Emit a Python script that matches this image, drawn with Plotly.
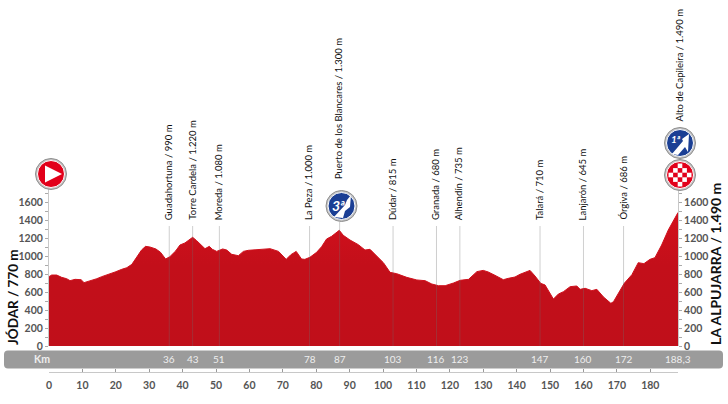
import plotly.graph_objects as go

km = [0,0.8,2.3,3.8,5.3,6.3,7.8,9.6,10.5,11.5,12.8,14.3,15.8,17.8,19.8,21.8,23.3,24.8,26.2,27.7,28.9,30.2,32,33.4,34.9,36.2,37.9,39.2,40.7,42.2,43,44.2,45.7,46.7,48,48.9,50.2,52,53.2,54.7,56.7,58.2,59.7,
      62.7,66.2,68.7,71,72.4,74,75.6,76.6,78.1,80.1,81.6,83.1,84.6,86.9,88.1,90.1,92.6,94.6,96.1,98.1,100.1,102.1,104.1,107.1,110.1,112.6,114.6,116.6,118.6,121.1,123.1,125.6,128.1,130,131.5,133.5,136,137.5,139.5,141,144,145.5,147.2,148.5,151,152.5,154,156,158,159,160.5,162.5,164,166,168.2,169,170.5,172.2,174.5,176.4,178.1,179.9,181.4,183.4,185.4,187.2,188.3]
elev = [774,792,792,766,751,729,744,740,707,718,740,751,774,796,826,856,874,911,990,1071,1112,1105,1083,1045,971,997,1060,1127,1150,1194,1213,1176,1127,1086,1112,1079,1056,1083,1071,1023,1008,1056,1068,
        1075,1086,1056,967,1019,1056,971,967,990,1045,1108,1194,1224,1291,1235,1183,1131,1071,1079,1008,930,822,807,766,737,729,692,673,673,703,733,744,830,844,826,789,740,755,770,800,844,781,699,681,524,580,606,662,670,632,644,618,632,547,476,495,595,699,796,930,919,967,986,1127,1295,1414,1490]

pass_km = [36,43,51,78,87,103,116,123,147,160,172]
pass_names = ["Guadahortuna / 990 m","Torre Cardela / 1.220 m","Moreda / 1.080 m","La Peza / 1.000 m",
              "Puerto de los Blancares / 1.300 m","Dúdar / 815 m","Granada / 680 m","Alhendín / 735 m",
              "Talará / 710 m","Lanjarón / 645 m","Órgiva / 686 m"]
band_labels = ["36","43","51","78","87","103","116","123","147","160","172"]
x_ticks = list(range(0,190,10))
y_major = list(range(0,1800,200))
y_minor = list(range(100,1800,200))

FONT = "Lato"
W,H = 728,404
L,R = 49,50
PX = lambda x: (x-L)/(W-L-R)   # paper x spans the plot area
PY = lambda y: 1-y/H
Y0, YT = 346.0, 188.0
SCALE = 0.0896
y_top = (Y0-YT)/SCALE

fig = go.Figure()
fig.add_trace(go.Scatter(x=km,y=elev,mode="lines",line=dict(color="#cf101c",width=1),
    fill="tozeroy",
    fillgradient=dict(type="vertical",colorscale=[[0,"#c00f1a"],[0.6,"#c30f1a"],[1,"#d3101c"]]),
    hoverinfo="skip",showlegend=False))

label_top = (Y0-226)/SCALE
for k in pass_km:
    top = (Y0-222)/SCALE if k==87 else label_top
    fig.add_trace(go.Scatter(x=[k,k],y=[0,top],mode="lines",
        line=dict(color="rgba(110,110,110,0.33)",width=1),hoverinfo="skip",showlegend=False))

ann=[]
for k,n in zip(pass_km,pass_names):
    ybase = 181 if k==87 else 222
    ann.append(dict(x=k,xref="x",y=PY(ybase),yref="paper",text=n,textangle=-90,showarrow=False,
        xanchor="center",yanchor="bottom",xshift=-1,font=dict(family=FONT,size=9.5,color="#111")))
ann.append(dict(x=188.3,xref="x",y=PY(124),yref="paper",text="Alto de Capileira / 1.490 m",textangle=-90,showarrow=False,
    xanchor="center",yanchor="bottom",xshift=1,font=dict(family=FONT,size=9.5,color="#111")))
for k,n in zip(pass_km,band_labels):
    ann.append(dict(x=k,xref="x",y=PY(359),yref="paper",text=n,showarrow=False,xanchor="center",yanchor="middle",
        font=dict(family=FONT,size=10,color="#eeeeee")))
ann.append(dict(x=188.3,xref="x",y=PY(359),yref="paper",text="188,3",showarrow=False,xanchor="center",yanchor="middle",
    font=dict(family=FONT,size=10,color="#eeeeee")))
ann.append(dict(x=PX(42),xref="paper",y=PY(359),yref="paper",text="<b>Km</b>",showarrow=False,xanchor="center",yanchor="middle",
    font=dict(family=FONT,size=10.5,color="#eeeeee")))
ann.append(dict(x=PX(13),xref="paper",y=PY(347),yref="paper",text="<b>JÓDAR / 770 m</b>",textangle=-90,showarrow=False,
    xanchor="center",yanchor="bottom",font=dict(family=FONT,size=13.5,color="#111")))
ann.append(dict(x=PX(715),xref="paper",y=PY(347),yref="paper",text="<b>LA ALPUJARRA / 1.490 m</b>",textangle=-90,showarrow=False,
    xanchor="center",yanchor="bottom",font=dict(family=FONT,size=14,color="#111")))
ann.append(dict(x=PX(338),xref="paper",y=PY(205),yref="paper",text="<b><i>3ª</i></b>",showarrow=False,xanchor="center",yanchor="middle",
    font=dict(family=FONT,size=14,color="white")))
ann.append(dict(x=PX(676),xref="paper",y=PY(139),yref="paper",text="<b><i>1ª</i></b>",showarrow=False,xanchor="center",yanchor="middle",
    font=dict(family=FONT,size=10,color="white")))

shapes=[]
def circle(cx,cy,r,fill,line=None,lw=0):
    shapes.append(dict(type="circle",xref="paper",yref="paper",layer="above",
        x0=PX(cx-r),x1=PX(cx+r),y0=PY(cy+r),y1=PY(cy-r),fillcolor=fill,
        line=dict(color=line or fill,width=lw)))
def poly(pts,fill):
    p="M"+" L".join(f"{PX(a):.5f},{PY(b):.5f}" for a,b in pts)+" Z"
    shapes.append(dict(type="path",xref="paper",yref="paper",layer="above",path=p,fillcolor=fill,line=dict(width=0)))

x0,x1,y0,y1,r=4,723,350.5,368.5,4
band=f"M{PX(x0+r)},{PY(y0)} L{PX(x1-r)},{PY(y0)} Q{PX(x1)},{PY(y0)} {PX(x1)},{PY(y0+r)} L{PX(x1)},{PY(y1-r)} Q{PX(x1)},{PY(y1)} {PX(x1-r)},{PY(y1)} L{PX(x0+r)},{PY(y1)} Q{PX(x0)},{PY(y1)} {PX(x0)},{PY(y1-r)} L{PX(x0)},{PY(y0+r)} Q{PX(x0)},{PY(y0)} {PX(x0+r)},{PY(y0)} Z"
shapes.append(dict(type="path",xref="paper",yref="paper",layer="below",path=band,fillcolor="#9b9b9b",line=dict(width=0)))

circle(51,174,15.5,"#c4c4c4","#8f8f8f",1); circle(51,174,13.5,"#e2001a","white",1)
poly([(45,165.5),(45,182.5),(62,174)],"white")
circle(341.5,206,15.5,"#c4c4c4","#8f8f8f",1); circle(341.5,206,13.5,"#1b3f94","white",1)
poly([(334,217),(345,205),(347,200),(351,195),(350,207),(345,211),(343,218)],"white")
circle(680,143,15.5,"#c4c4c4","#8f8f8f",1); circle(680,143,13.5,"#1b3f94","white",1)
poly([(672,154),(683,141),(682,139),(689,134),(688,152),(685,147),(678,155)],"white")
circle(680,175,15.5,"#c4c4c4","#8f8f8f",1); circle(680,175,13.5,"#e2001a","white",1)
s=4.6
for i in range(-2,3):
    for j in range(-2,3):
        if (i+j)%2==0 and (abs(i)+abs(j))<=3:
            cx,cy=680+i*s,175+j*s
            poly([(cx-s/2,cy-s/2),(cx+s/2,cy-s/2),(cx+s/2,cy+s/2),(cx-s/2,cy+s/2)],"white")

axis_grey="#c8c8c8"
yvals=sorted(y_major[:9]+y_minor)
ytext=[str(v) if v%200==0 else "" for v in yvals]
yargs=dict(range=[0,y_top],domain=[PY(Y0),PY(YT)],tickmode="array",tickvals=yvals,ticktext=ytext,
    showgrid=False,zeroline=False,showline=True,linecolor=axis_grey,linewidth=1,ticks="outside",ticklen=3,
    tickcolor="#aaaaaa",tickfont=dict(family=FONT,size=10.5,color="#555555",weight="bold"))
fig.update_layout(
    width=W,height=H,autosize=False,
    margin=dict(l=L,r=R,t=0,b=0,autoexpand=False),
    paper_bgcolor="white",plot_bgcolor="white",showlegend=False,
    xaxis=dict(range=[0,188.3],anchor="free",position=PY(372),side="bottom",
        tickmode="array",tickvals=x_ticks+[188.3],ticktext=[str(v) for v in x_ticks]+[""],
        showgrid=False,zeroline=False,showline=True,linecolor=axis_grey,linewidth=1,
        ticks="inside",ticklen=3,tickcolor="#999999",
        tickangle=0,ticklabelstandoff=3,
        tickfont=dict(family=FONT,size=10.5,color="#555555",weight="bold")),
    yaxis=yargs,
    yaxis2=dict(**yargs,overlaying="y",side="right",anchor="x"),
    annotations=ann,shapes=shapes)
fig.add_trace(go.Scatter(x=[0],y=[0],yaxis="y2",mode="markers",marker=dict(opacity=0),hoverinfo="skip",showlegend=False))
fig.write_html("out.html",config={"displayModeBar":False},
    post_script="document.body.style.margin='0';document.documentElement.style.overflow='hidden';")
